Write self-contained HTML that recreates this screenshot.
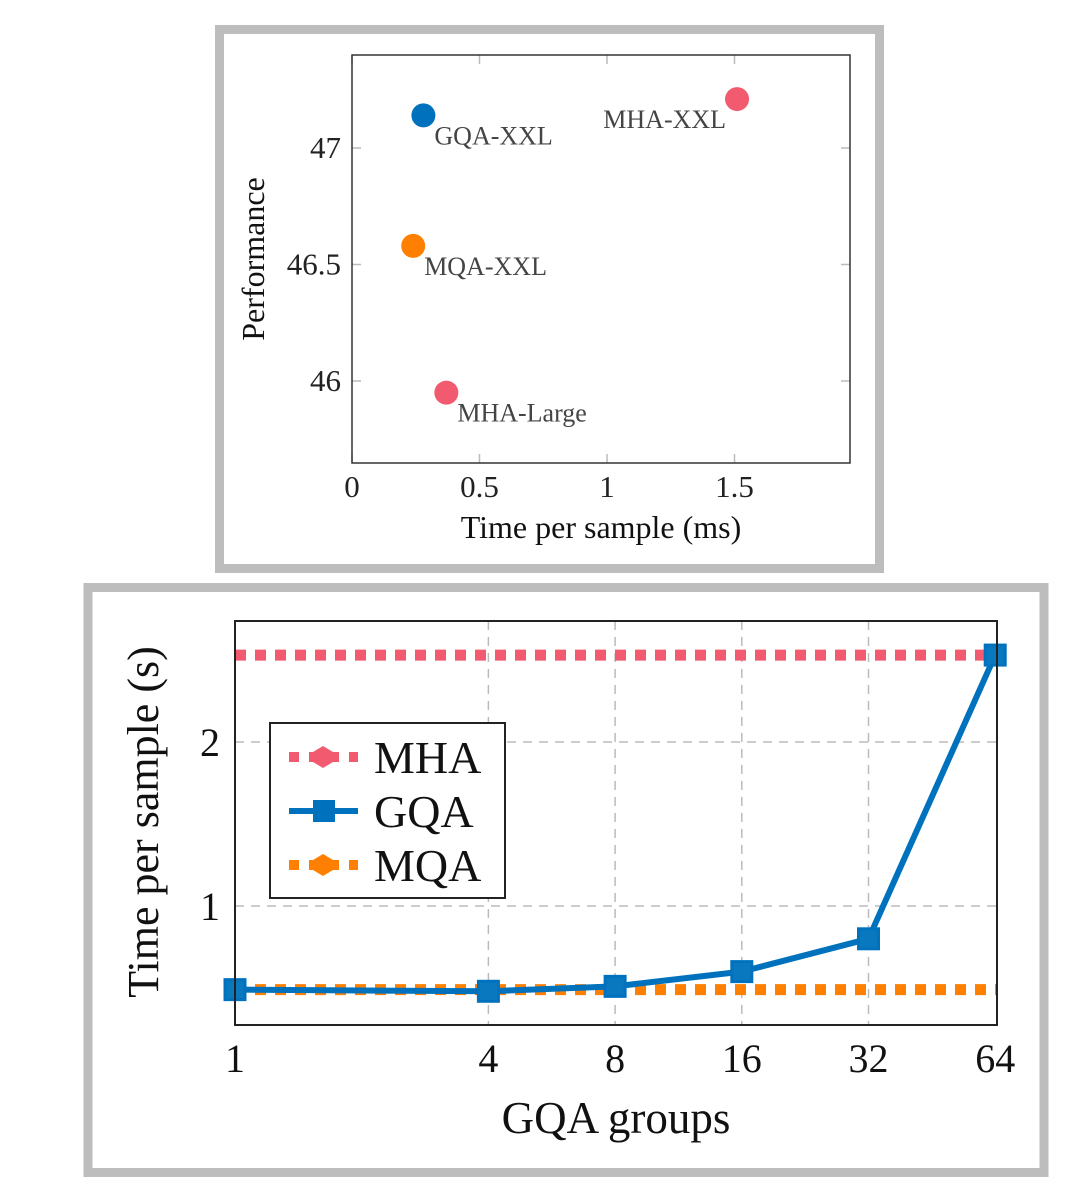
<!DOCTYPE html>
<html><head><meta charset="utf-8">
<style>
body{margin:0;background:#fff;width:1074px;height:1194px;overflow:hidden;font-family:"Liberation Serif",serif;}
svg{position:absolute;left:0;top:0}
</style></head>
<body>
<svg id="s" width="1074" height="1194" xmlns="http://www.w3.org/2000/svg">
  <rect x="219.5" y="29.5" width="660" height="539" fill="#fff" stroke="#bdbdbd" stroke-width="9"/>
  <rect x="88" y="587.5" width="956" height="585" fill="#fff" stroke="#bdbdbd" stroke-width="9"/>
  <g id="top"></g>
  <g id="bot"></g>
</svg>
<script>
// top scatter data
const scatterLabels=["GQA-XXL","MHA-XXL","MQA-XXL","MHA-Large"];
const scatterTime=[0.28,1.51,0.24,0.37];
const scatterPerf=[47.14,47.21,46.58,45.95];
const scatterColors=["#0072bd","#f25a6f","#ff8000","#f25a6f"];
const topXTicks=[0,0.5,1,1.5];
const topYTicks=[46,46.5,47];
// bottom line data
const groups=[1,4,8,16,32,64];
const gqaTime=[0.49,0.48,0.51,0.6,0.8,2.53];
const mhaTime=[2.53];
const mqaTime=[0.49];
const botYTicks=[1,2];

const NS="http://www.w3.org/2000/svg";
function mk(p,tag,a,txt){const e=document.createElementNS(NS,tag);for(const k in a)e.setAttribute(k,a[k]);if(txt!==undefined)e.textContent=txt;p.appendChild(e);return e;}

// top chart
const T=document.getElementById('top');
const tx=v=>352+v*255, ty=v=>148-(v-47)*233;
const tL=352,tR=850,tT=55,tB=463;
topXTicks.forEach(v=>{
  let l=mk(T,'line',{x1:tx(v),x2:tx(v),y1:tB,y2:tB-9,stroke:'#bbb','stroke-width':1.5});
  
  let l2=mk(T,'line',{x1:tx(v),x2:tx(v),y1:tT,y2:tT+9,stroke:'#bbb','stroke-width':1.5});
  
  let t=mk(T,'text',{x:tx(v),y:497,'font-size':31,'text-anchor':'middle',fill:'#222'},String(v));
  
});
topYTicks.forEach(v=>{
  let l=mk(T,'line',{x1:tL,x2:tL+9,y1:ty(v),y2:ty(v),stroke:'#bbb','stroke-width':1.5});
  
  let l2=mk(T,'line',{x1:tR,x2:tR-9,y1:ty(v),y2:ty(v),stroke:'#bbb','stroke-width':1.5});
  
  let t=mk(T,'text',{x:341,y:ty(v)+10,'font-size':31,'text-anchor':'end',fill:'#222'},String(v));
  
});
let tb=mk(T,'rect',{x:tL,y:tT,width:tR-tL,height:tB-tT,fill:'none',stroke:'#333','stroke-width':1.5});

scatterLabels.forEach((lab,i)=>{
  const cx=tx(scatterTime[i]),cy=ty(scatterPerf[i]);
  let c=mk(T,'circle',{cx:cx,cy:cy,r:12,fill:scatterColors[i]});
  
  const left=lab==="MHA-XXL";
  let t=mk(T,'text',{x:left?cx-11:cx+11,y:left?cy+29:cy+29,'font-size':26,'text-anchor':left?'end':'start',fill:'#444'},lab);
  
});
let xt=mk(T,'text',{x:601,y:538,'font-size':32,'text-anchor':'middle',fill:'#111'},'Time per sample (ms)');

let yt=mk(T,'text',{x:0,y:0,'font-size':32,'text-anchor':'middle',fill:'#111',transform:'translate(264,259) rotate(-90)'},'Performance');


// bottom chart
const B=document.getElementById('bot');
const bL=235,bR=997,bT=621,bB=1025;
const bx=g=>235+Math.log2(g)*126.7, by=v=>1070-v*164;
groups.forEach(g=>{
  if(g!==1&&g!==64){let l=mk(B,'line',{x1:bx(g),x2:bx(g),y1:bT,y2:bB,stroke:'#bbb','stroke-width':1.5,'stroke-dasharray':'9 7'});
  }
  let t=mk(B,'text',{x:bx(g),y:1072,'font-size':40,'text-anchor':'middle',fill:'#111'},String(g));
  
});
botYTicks.forEach(v=>{
  let l=mk(B,'line',{x1:bL,x2:bR,y1:by(v),y2:by(v),stroke:'#bbb','stroke-width':1.5,'stroke-dasharray':'9 7'});
  
  let t=mk(B,'text',{x:220,y:by(v)+14,'font-size':40,'text-anchor':'end',fill:'#111'},String(v));
  
});
let mha=mk(B,'line',{x1:bL,x2:bR,y1:by(mhaTime[0]),y2:by(mhaTime[0]),stroke:'#f25a6f','stroke-width':11,'stroke-dasharray':'11 9'});

let mqa=mk(B,'line',{x1:bL,x2:bR,y1:by(mqaTime[0]),y2:by(mqaTime[0]),stroke:'#ff8000','stroke-width':11,'stroke-dasharray':'11 9'});

let gq=mk(B,'polyline',{points:groups.map((g,i)=>bx(g)+','+by(gqaTime[i])).join(' '),fill:'none',stroke:'#0072bd','stroke-width':6,'stroke-linejoin':'round'});

groups.forEach((g,i)=>{
  let r=mk(B,'rect',{x:bx(g)-10,y:by(gqaTime[i])-10,width:20,height:20,fill:'#0a78bf',stroke:'#0072bd','stroke-width':3});
  
});
let bb=mk(B,'rect',{x:bL,y:bT,width:bR-bL,height:bB-bT,fill:'none',stroke:'#222','stroke-width':2});

// legend
const lg=mk(B,'g',{});

mk(lg,'rect',{x:270,y:723,width:235,height:175,fill:'#fff',stroke:'#222','stroke-width':2});
const legNames=["MHA","GQA","MQA"],legCols=["#f25a6f","#0072bd","#ff8000"];
legNames.forEach((n,i)=>{
  const y=757+i*54;
  let e=mk(lg,'g',{});
  
  if(i===1){mk(e,'line',{x1:289,x2:358,y1:y,y2:y,stroke:legCols[i],'stroke-width':6});
    mk(e,'rect',{x:313,y:y-11,width:22,height:22,fill:legCols[i]});}
  else{mk(e,'line',{x1:289,x2:358,y1:y,y2:y,stroke:legCols[i],'stroke-width':10,'stroke-dasharray':'10 10'});
    mk(e,'polygon',{points:`${313},${y-5} ${323},${y-11} ${333},${y-5} ${333},${y+5} ${323},${y+11} ${313},${y+5}`,fill:legCols[i]});}
  mk(e,'text',{x:374,y:y+16,'font-size':46,fill:'#111'},n);
});
let bxt=mk(B,'text',{x:616,y:1133,'font-size':45,'text-anchor':'middle',fill:'#111'},'GQA groups');

let byt=mk(B,'text',{x:0,y:0,'font-size':44,'text-anchor':'middle',fill:'#111',transform:'translate(158,822) rotate(-90)'},'Time per sample (s)');

</script>
</body></html>
